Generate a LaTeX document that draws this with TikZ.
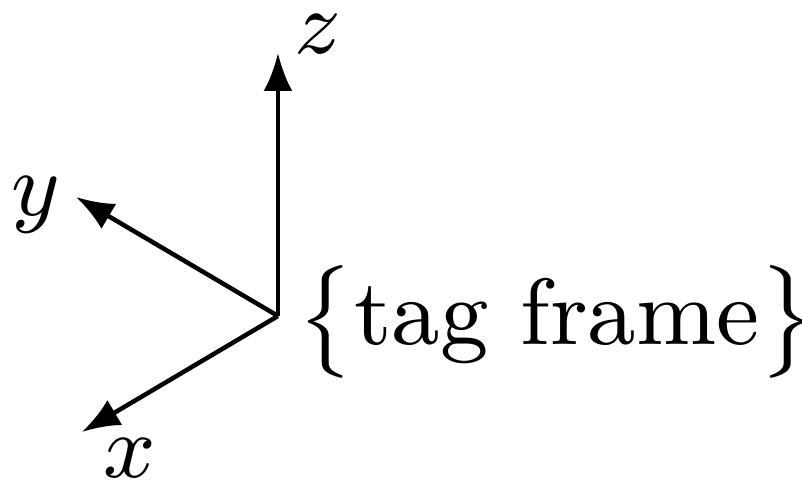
\documentclass[tikz,border=0pt]{standalone}
\usepackage{amsmath,amssymb}
\usepackage{tikz}
\usetikzlibrary{arrows.meta,positioning}

\begin{document}
\begin{tikzpicture}[
    x=0.1pt, y=-0.1pt,
    axis/.style={-{Latex[length=3.8pt,width=2.9pt]}, line width=0.45pt, draw=black},
    lbl/.style={inner sep=0pt, font=\fontsize{9.4}{11}\selectfont}
]
\useasboundingbox (0,0) rectangle (802,486);

\coordinate (o) at (278,316);
\coordinate (zt) at (278,53);
\coordinate (yt) at (76,197);
\coordinate (xt) at (82,432);

\draw[axis] (o) -- (zt);
\draw[axis] (o) -- (yt);
\draw[axis] (o) -- (xt);

\node[lbl] (zl) at (318,34) {$z$};
\node[lbl] (yl) at (36,205) {$y$};
\node[lbl] (xl) at (130,458) {$x$};
\node[lbl, anchor=west] (f) at (296,322) {$\big\{\text{tag frame}\big\}$};

\end{tikzpicture}
\end{document}
